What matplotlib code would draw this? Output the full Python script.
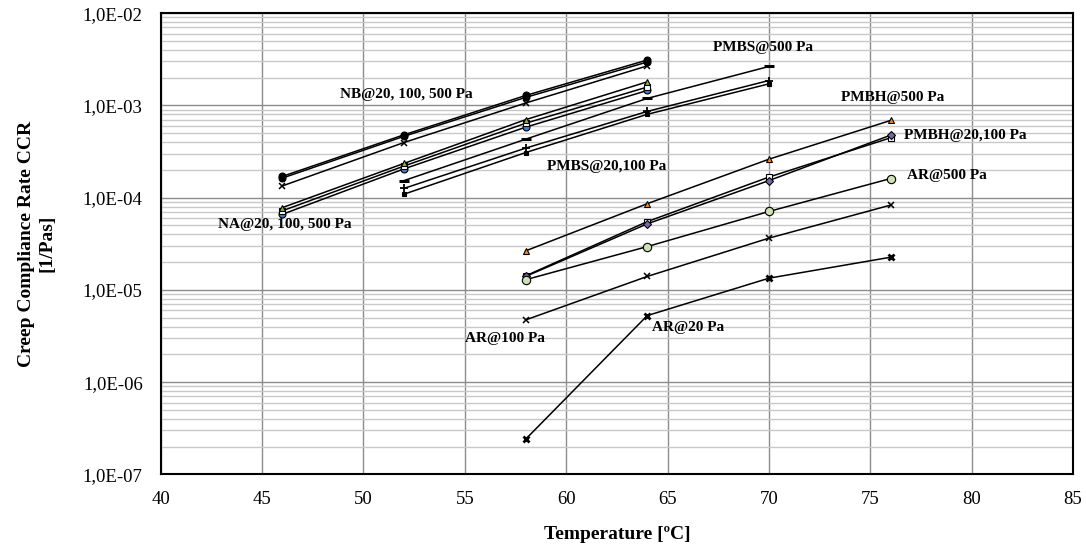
import matplotlib.pyplot as plt
import numpy as np
from matplotlib.ticker import FuncFormatter, LogLocator, MultipleLocator

plt.rcParams['font.family'] = ['Liberation Serif', 'DejaVu Serif']

# temperatures [C]
t_na = [46, 52, 58, 64]
t_pmbs = [52, 58, 64, 70]
t_pmbh = [58, 64, 70, 76]

# creep compliance rate [1/Pas]
nb_500 = [1.70e-4, 4.80e-4, 1.28e-3, 3.10e-3]
nb_100 = [1.63e-4, 4.62e-4, 1.22e-3, 2.95e-3]
nb_20 = [1.34e-4, 3.96e-4, 1.06e-3, 2.68e-3]

na_500 = [7.8e-5, 2.35e-4, 7.0e-4, 1.80e-3]
na_100 = [7.2e-5, 2.20e-4, 6.4e-4, 1.58e-3]
na_20 = [6.6e-5, 2.05e-4, 5.8e-4, 1.45e-3]

pmbs_500 = [1.53e-4, 4.30e-4, 1.19e-3, 2.64e-3]
pmbs_100 = [1.26e-4, 3.44e-4, 8.6e-4, 1.86e-3]
pmbs_20 = [1.09e-4, 3.08e-4, 8.0e-4, 1.71e-3]

pmbh_500 = [2.65e-5, 8.6e-5, 2.61e-4, 6.86e-4]
pmbh_100 = [1.42e-5, 5.5e-5, 1.67e-4, 4.45e-4]
pmbh_20 = [1.40e-5, 5.2e-5, 1.53e-4, 4.75e-4]

ar_500 = [1.29e-5, 2.95e-5, 7.08e-5, 1.61e-4]
ar_100 = [4.73e-6, 1.40e-5, 3.64e-5, 8.3e-5]
ar_20 = [2.41e-7, 5.27e-6, 1.34e-5, 2.26e-5]

labels = ['NB@20, 100, 500 Pa', 'NA@20, 100, 500 Pa', 'PMBS@500 Pa', 'PMBS@20,100 Pa',
          'PMBH@500 Pa', 'PMBH@20,100 Pa', 'AR@500 Pa', 'AR@100 Pa', 'AR@20 Pa']
label_x = [52.1, 46.1, 69.7, 62.0, 76.1, 79.7, 78.8, 57.0, 66.0]
label_y = [1.30e-3, 5.07e-5, 4.28e-3, 2.17e-4, 1.22e-3, 4.68e-4, 1.75e-4, 3.0e-6, 3.95e-6]

fig = plt.figure(figsize=(10.86, 5.46), dpi=100)
ax = fig.add_axes([0.148, 0.131, 0.840, 0.845])

lw = 1.1
ms = 5

def line(x, y, marker, fc='black', size=ms, mew=0.8):
    ax.plot(x, y, color='black', lw=lw, marker=marker, markersize=size,
            markerfacecolor=fc, markeredgecolor='black', markeredgewidth=mew, zorder=3)

line(t_na, nb_20, 'x', size=5, mew=1.1)
line(t_na, nb_100, 'o')
line(t_na, nb_500, 'o')

line(t_na, na_20, 'o', fc='#3f7fc6')
line(t_na, na_100, 's', fc='white')
line(t_na, na_500, '^', fc='#8cb04a')

line(t_pmbs, pmbs_20, 's', size=3.5)
line(t_pmbs, pmbs_100, '+', size=6, mew=1.3)
line(t_pmbs, pmbs_500, '_', size=7, mew=2.2)

line(t_pmbh, pmbh_100, 's', fc='white')
line(t_pmbh, pmbh_20, 'D', fc='#7a64aa', size=4)
line(t_pmbh, pmbh_500, '^', fc='#f08a2a')

line(t_pmbh, ar_500, 'o', fc='#cfe0b4', size=6)
line(t_pmbh, ar_100, 'x', size=5, mew=1.1)
line(t_pmbh, ar_20, 'x', size=5, mew=2.0)

for s, x, y in zip(labels, label_x, label_y):
    ax.text(x, y, s, ha='center', va='center', fontsize=11, fontweight='bold', zorder=4)

ax.set_yscale('log')
ax.set_xlim(40, 85)
ax.set_ylim(1e-7, 1e-2)
ax.xaxis.set_major_locator(MultipleLocator(5))
ax.yaxis.set_major_locator(LogLocator(base=10, numticks=10))
ax.yaxis.set_minor_locator(LogLocator(base=10, subs=np.arange(2, 10), numticks=20))
ax.yaxis.set_major_formatter(FuncFormatter(lambda v, p: '1,0E-%02d' % round(-np.log10(v))))
ax.yaxis.set_minor_formatter(FuncFormatter(lambda v, p: ''))

ax.grid(True, which='major', axis='both', color='#8c8c8c', lw=1.0, zorder=0)
ax.grid(True, which='minor', axis='y', color='#c8c8c8', lw=1.0, zorder=0)
ax.set_axisbelow(True)

ax.tick_params(which='both', length=0, labelsize=13.5)
ax.tick_params(axis='x', pad=12)
ax.tick_params(axis='y', pad=13)
for sp in ax.spines.values():
    sp.set_color('black')
    sp.set_linewidth(1.5)

ax.set_xlabel('Temperature [ºC]', fontsize=14, fontweight='bold', labelpad=12.5)
ax.set_ylabel('Creep Compliance Rate CCR\n[1/Pas]', fontsize=14, fontweight='bold', labelpad=20)

fig.savefig('out.png', dpi=100)
